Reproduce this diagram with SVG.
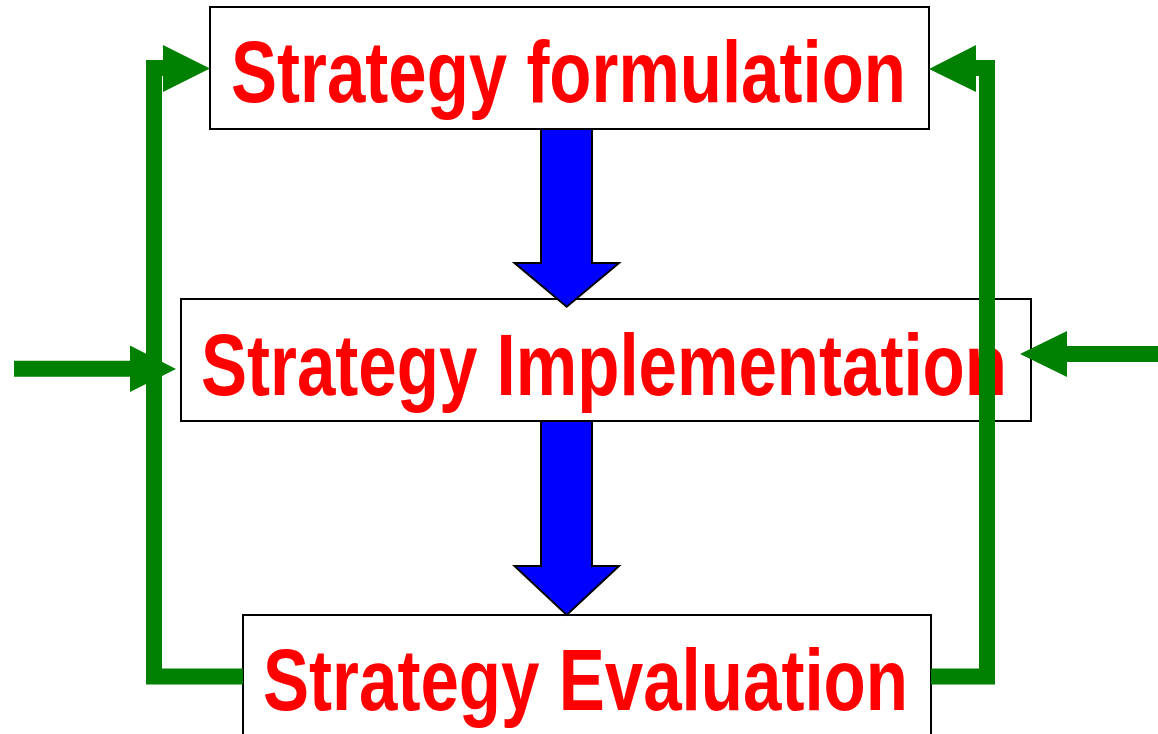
<svg xmlns="http://www.w3.org/2000/svg" width="1158" height="734" viewBox="0 0 1158 734">
  <style>
    .box { fill: #ffffff; stroke: #000000; stroke-width: 2; }
    .label { font-family: "Liberation Sans", Arial, sans-serif; font-weight: bold; font-size: 88px; fill: #ff0000; }
    .flow { fill: #0000ff; stroke: #000000; stroke-width: 2; stroke-linejoin: miter; }
    .loop { fill: none; stroke: #008000; stroke-width: 16; stroke-linejoin: miter; stroke-linecap: butt; }
    .head { fill: #008000; stroke: none; }
  </style>
  <rect width="1158" height="734" fill="#ffffff"/>

  <g id="node-formulation">
    <rect class="box" x="210" y="7" width="719" height="122"/>
    <text class="label" x="231" y="101.5" textLength="675" lengthAdjust="spacingAndGlyphs">Strategy formulation</text>
  </g>

  <g id="node-implementation">
    <rect class="box" x="181" y="299" width="850" height="122"/>
    <text class="label" x="201" y="395" textLength="806" lengthAdjust="spacingAndGlyphs">Strategy Implementation</text>
  </g>

  <g id="node-evaluation">
    <rect class="box" x="243" y="615" width="688" height="130"/>
    <text class="label" x="263" y="710" textLength="645" lengthAdjust="spacingAndGlyphs">Strategy Evaluation</text>
  </g>

  <g id="connectors">
    <!-- block arrows between stages -->
    <polygon class="flow" points="541,129 592,129 592,263 619,263 566.7,306.7 514.5,263 541,263"/>
    <polygon class="flow" points="541,421 592,421 592,566 619,566 566.7,615 514.5,566 541,566"/>

    <!-- left feedback loop: evaluation back to formulation -->
    <path class="loop" d="M243,676.5 H154 V68 H166"/>
    <polygon class="head" points="163,45 210,68.5 163,92"/>

    <!-- right feedback loop: evaluation back to formulation -->
    <path class="loop" d="M931,676.5 H987 V68 H975"/>
    <polygon class="head" points="976,45 929,69 976,92"/>

    <!-- external inputs into implementation -->
    <path class="loop" d="M14,368.7 H132"/>
    <polygon class="head" points="130,345.5 176,369 130,392"/>

    <path class="loop" d="M1158,354 H1065"/>
    <polygon class="head" points="1067,331 1020,354 1067,377"/>
  </g>
</svg>
